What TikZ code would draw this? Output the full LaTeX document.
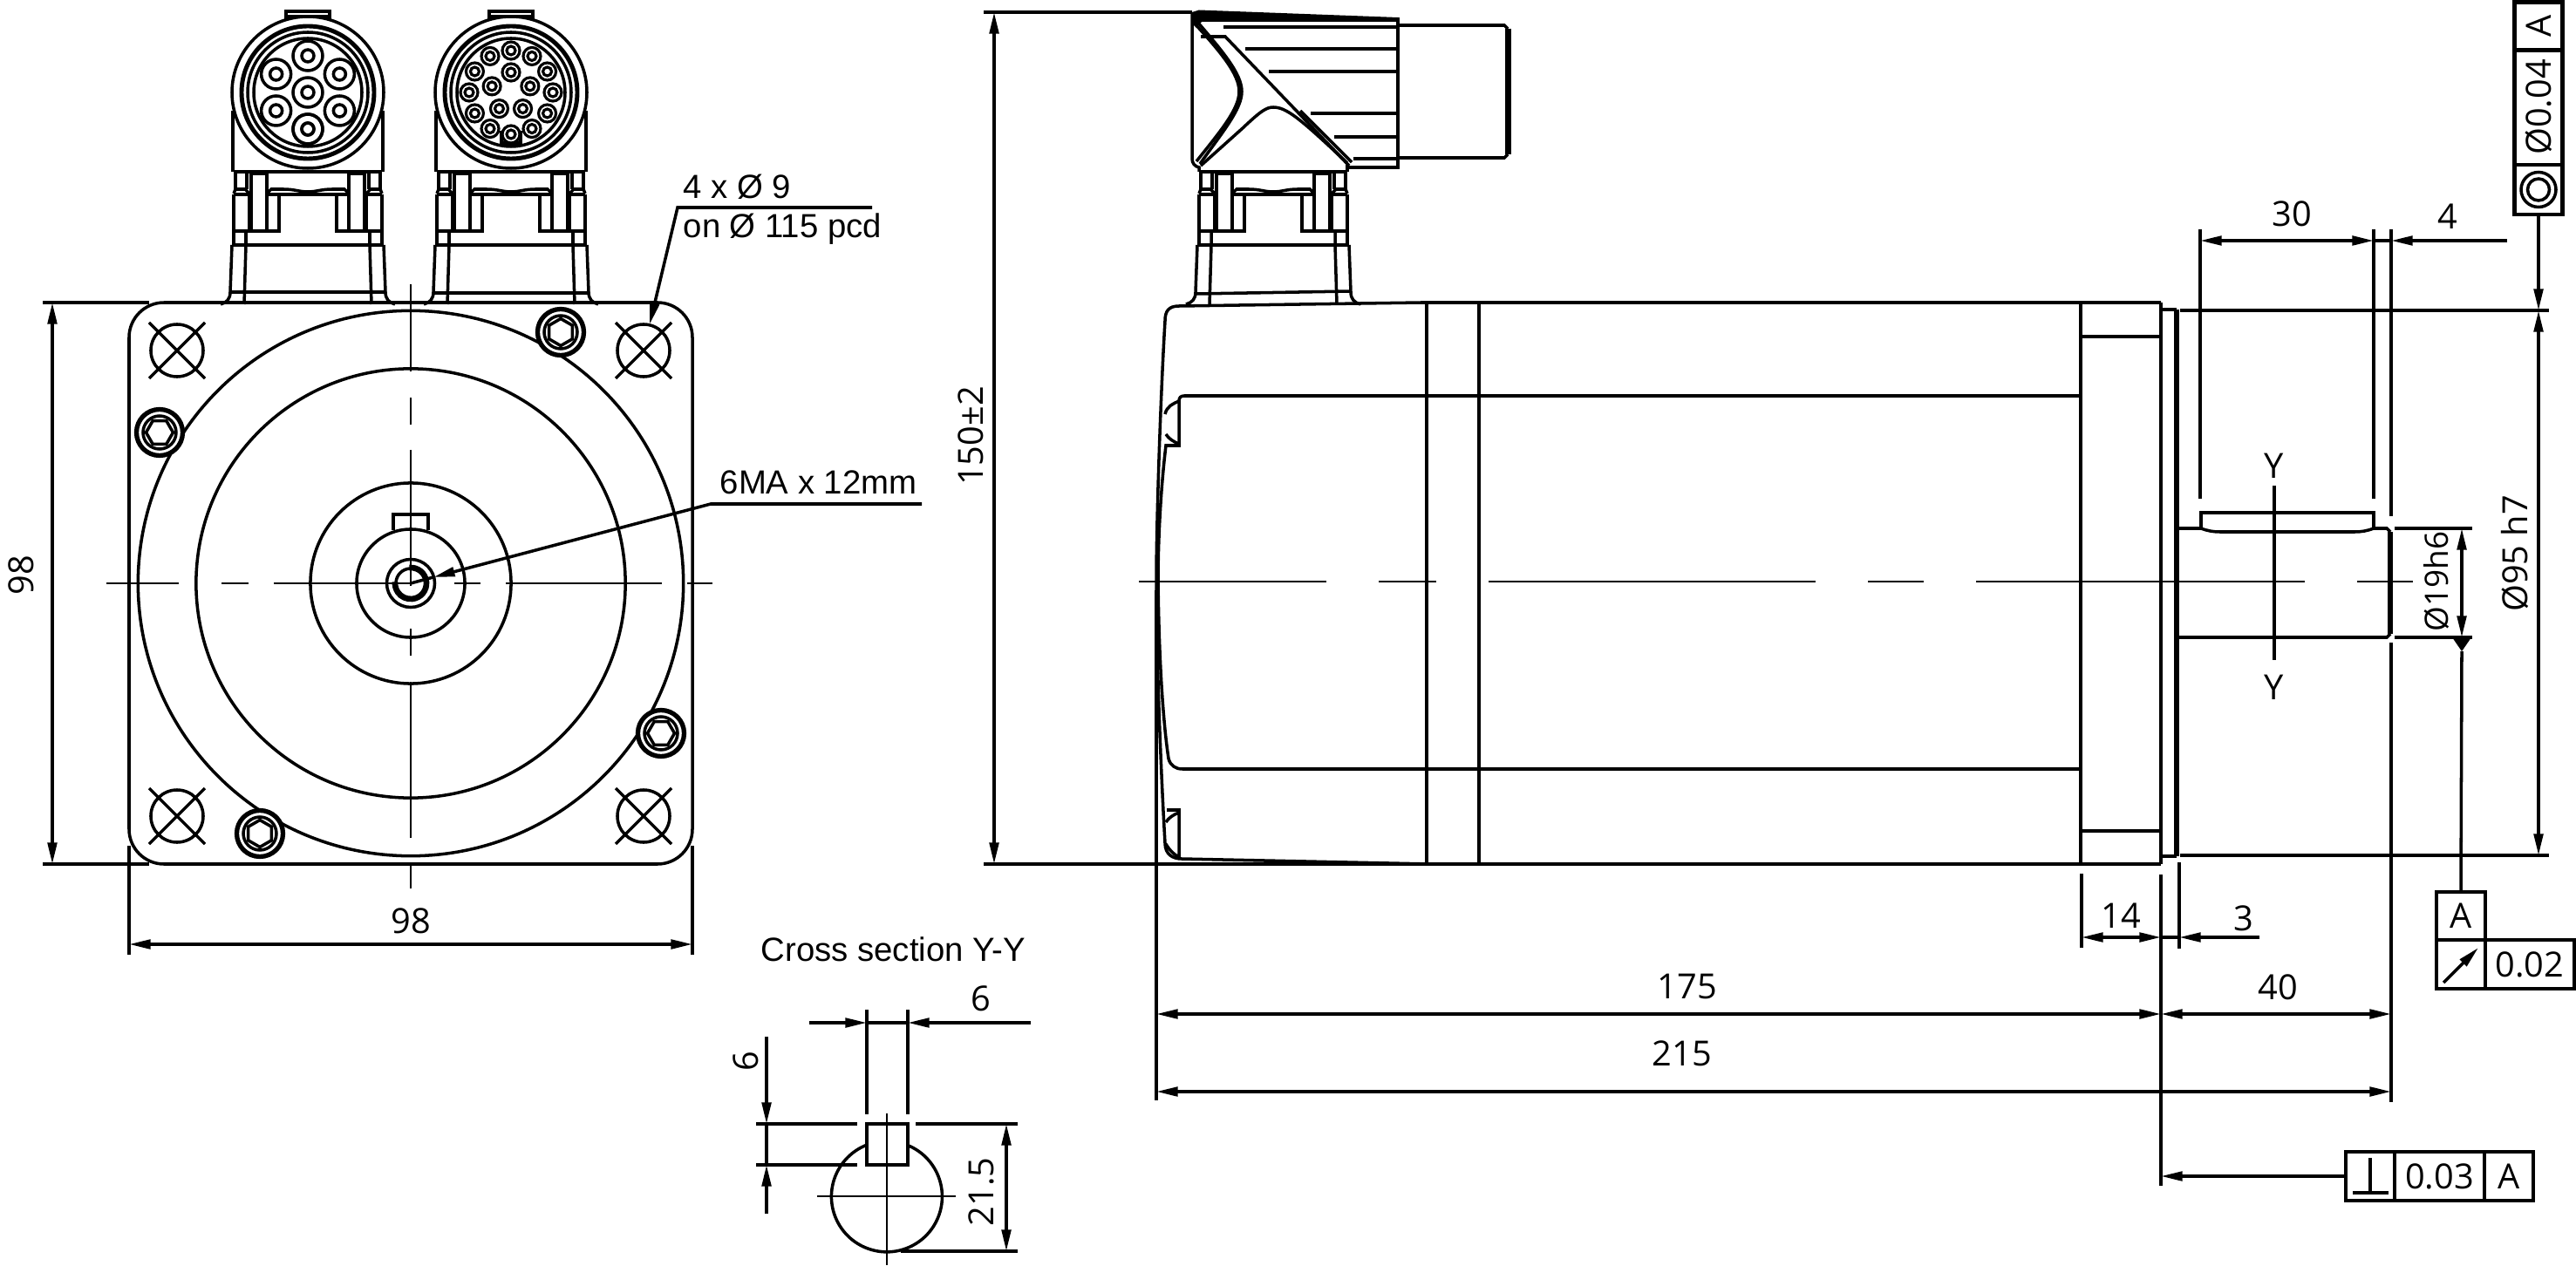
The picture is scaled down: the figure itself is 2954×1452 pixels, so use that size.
\documentclass[tikz,border=0pt]{standalone}
\usepackage{fontspec}
\usepackage{tikz}
\usetikzlibrary{arrows.meta,shapes.geometric}
\setmainfont{Liberation Sans}
\newfontfamily\dimfont{Open Sans}

\tikzset{
	part/.style={line width=1pt},
	heavy/.style={line width=1.9pt},
	centerline/.style={line width=0.8pt},
	dimline/.style={line width=1pt},
	lbl/.style={inner sep=0pt, font=\fontsize{10.9}{13}\selectfont},
	dimlbl/.style={inner sep=0pt, font=\dimfont\fontsize{11.3}{13}\selectfont},
	tolbox/.style={draw, rectangle, line width=1.2pt, inner sep=0pt, outer sep=0pt, font=\dimfont\fontsize{11.3}{13}\selectfont},
	holemark/.style={draw, circle, line width=1pt, minimum size=0.6cm, inner sep=0pt},
	boltring/.style={draw, circle, line width=1.5pt, fill=white, minimum size=0.53cm, inner sep=0pt},
	bolthex/.style={draw, regular polygon, regular polygon sides=6, line width=1pt, minimum size=0.31cm, inner sep=0pt},
}

\begin{document}
\begin{tikzpicture}[x=0.01cm, y=-0.01cm, >={Triangle[length=7pt,width=3pt]}]
	\useasboundingbox (0,0) rectangle (2954,1452);

	% connector bases, front view twice and side view once
	\foreach \cx/\ya/\yb/\za/\zb in {353/335/335/347/347, 586/336/336/347/347, 1460/337/334/351/347} {
		\begin{scope}[shift={(\cx,0)}, part]
			\draw (-85,197) -- (85,197);
			\draw (-87,281) -- (87,281);
			\draw (-89,\ya) -- (89,\yb);
			\foreach \s in {-1,1} {
				\begin{scope}[xscale=\s]
					\draw (-83,197) -- (-83,217) (-70,197) -- (-70,217);
					\draw (-85,222) -- (-83,217) -- (-72,217) -- (-67,222);
					\draw (-65,199) rectangle (-47,265);
					\draw (-85,223) -- (-67,223) (-47,223) -- (0,223);
					\draw (-85,223) -- (-85,281) (-67,223) -- (-67,265);
					\draw (-47,223) -- (-33,223) -- (-33,265) -- (-85,265);
					\draw (-47,222) -- (-42,217) -- (-28,217) .. controls (-15,217) and (-10,220) .. (0,220);
					\draw (-71,265) -- (-71,281) -- (-73,349);
					\draw (-87,281) -- (-89,335) .. controls (-89,343) and (-93,347) .. (-100,349);
				\end{scope}
			}
		\end{scope}
	}

	% connector heads in the front view
	\foreach \cx in {353,586} {
		\begin{scope}[shift={(\cx,106)}, part]
			\draw (-86,21) -- (-86,91) (86,21) -- (86,91);
			\draw (-25,-84) -- (-25,-93) -- (25,-93) -- (25,-84) (-24,-87) -- (24,-87);
			\draw[fill=white] (0,0) circle[radius=87];
			\draw[line width=1.4pt] (0,0) circle[radius=76];
			\draw (0,0) circle[radius=69];
			\draw (0,0) circle[radius=62];
		\end{scope}
	}
	\begin{scope}[shift={(353,106)}, part]
		\draw (0,0) circle[radius=17] (0,0) circle[radius=7];
		\foreach \a in {90,150,...,450} {
			\draw (\a:42) circle[radius=17] (\a:42) circle[radius=7];
		}
	\end{scope}
	\begin{scope}[shift={(586,106)}, line width=0.9pt]
		\draw (-11,44) -- (-11,58) -- (11,58) -- (11,44);
		\foreach \a in {0,30,...,330} {
			\draw[fill=white] (\a:48) circle[radius=10];
			\draw (\a:48) circle[radius=5];
		}
		\foreach \a in {-90,-18,54,126,198} {
			\draw[fill=white] (\a:23) circle[radius=10];
			\draw (\a:23) circle[radius=5];
		}
	\end{scope}

	% front view
	\draw[part, rounded corners=0.4cm] (148,347) rectangle (794,991);
	\node[draw, circle, part, minimum size=6.25cm, inner sep=0pt] (flange) at (471,669) {};
	\node[draw, circle, part, minimum size=4.92cm, inner sep=0pt] (pilot) at (471,669) {};
	\node[draw, circle, part, minimum size=2.3cm, inner sep=0pt] (boss) at (471,669) {};
	\node[draw, circle, part, minimum size=1.24cm, inner sep=0pt] (shaft) at (471,669) {};
	\node[draw, circle, part, minimum size=0.55cm, inner sep=0pt] (bore) at (471,669) {};
	\draw[part] (451,608) -- (451,590) -- (491,590) -- (491,608);
	\draw[part] (471,669) circle[radius=17];
	\draw[heavy] (471,669) ++(-95:18) arc[start angle=-95, end angle=185, radius=18];

	\foreach \hx/\hy/\hn in {203/402/a, 738/402/b, 203/936/c, 738/936/d} {
		\node[holemark] (hole\hn) at (\hx,\hy) {};
		\draw[part, shift={(\hx,\hy)}] (-32,-32) -- (32,32) (-32,32) -- (32,-32);
	}
	\foreach \bx/\by/\br/\bn in {643/381/30/a, 183/496/0/b, 758/841/0/c, 298/956/30/d} {
		\node[boltring] (bolt\bn) at (\bx,\by) {};
		\draw[part] (\bx,\by) circle[radius=19];
		\node[bolthex, shape border rotate=\br] (hex\bn) at (\bx,\by) {};
	}

	\draw[centerline] (122,669) -- (205,669) (254,669) -- (285,669) (314,669) -- (472,669) (521,669) -- (551,669) (580,669) -- (759,669) (788,669) -- (817,669);
	\draw[centerline] (471,326) -- (471,426) (471,456) -- (471,487) (471,516) -- (471,672) (471,721) -- (471,752) (471,782) -- (471,961) (471,991) -- (471,1019);

	% front view dimensions
	\draw[dimline] (49,347) -- (171,347) (49,991) -- (171,991);
	\draw[dimline, <->] (60,347) -- (60,991);
	\node[dimlbl, rotate=90] (hgt) at (24,660) {98};
	\draw[dimline] (148,970) -- (148,1095) (794,970) -- (794,1095);
	\draw[dimline, <->] (148,1083) -- (794,1083);
	\node[dimlbl] (wid) at (471,1056) {98};

	\node[lbl, anchor=base west] (holes) at (783,228) {4 x Ø 9};
	\node[lbl, anchor=base west] (pcd) at (783,273) {on Ø 115 pcd};
	\coordinate (holetip) at (745,372);
	\draw[dimline, ->] (1000,238) -- (777,238) -- (holetip);
	\node[lbl, anchor=base west] (thread) at (825,567) {6MA x 12mm};
	\coordinate (threadtip) at (497,662);
	\draw[dimline, ->] (1057,578) -- (815,578) -- (threadtip);
	\draw[dimline] (threadtip) -- (shaft.center);

	% cross section
	\node[lbl, anchor=base west] (sect) at (872,1102) {Cross section Y-Y};
	\draw[part] (994,1289) rectangle (1041,1336);
	\draw[part] (1040.3,1313.3) arc[start angle=-68.4, end angle=248.4, radius=63.5];
	\draw[centerline] (937,1372) -- (1096,1372) (1017,1277) -- (1017,1451);
	\draw[dimline] (994,1158) -- (994,1278) (1041,1158) -- (1041,1278);
	\draw[dimline, ->] (928,1173) -- (994,1173);
	\draw[dimline, ->] (1182,1173) -- (1041,1173);
	\draw[dimline] (994,1173) -- (1041,1173);
	\node[dimlbl] (keyw) at (1125,1145) {6};
	\draw[dimline] (867,1289) -- (983,1289) (1050,1289) -- (1167,1289) (867,1336) -- (983,1336) (1033,1435) -- (1167,1435);
	\draw[dimline, ->] (879,1189) -- (879,1289);
	\draw[dimline, ->] (879,1392) -- (879,1336);
	\draw[dimline] (879,1289) -- (879,1336);
	\node[dimlbl, rotate=90] (keyh) at (855,1217) {6};
	\draw[dimline, <->] (1154,1289) -- (1154,1435);
	\node[dimlbl, rotate=90] (keyd) at (1125,1367) {21.5};

	% side view, motor body
	\draw[part] (2478,347) -- (1630,347) -- (1352,351) .. controls (1340,351) and (1336,357) .. (1336,368) .. controls (1331,450) and (1326,600) .. (1326,666) .. controls (1326,760) and (1332,900) .. (1336,967) .. controls (1336,980) and (1345,985) .. (1355,985) -- (1640,991);
	\draw[part] (2386,454) -- (1358,454) .. controls (1354,454) and (1352,456) .. (1352,460) -- (1352,511) -- (1337,511) .. controls (1331,560) and (1328,620) .. (1328,666) .. controls (1329,760) and (1334,830) .. (1340,870) .. controls (1342,878) and (1348,882) .. (1356,882) -- (2386,882);
	\draw[part] (1336,475) .. controls (1338,466) and (1345,463) .. (1352,460) (1337,498) .. controls (1340,503) and (1346,507) .. (1352,509);
	\draw[part] (1338,929) -- (1352,929) -- (1352,985) (1337,943) .. controls (1340,938) and (1346,934) .. (1352,932) (1337,968) .. controls (1341,975) and (1346,980) .. (1352,983);
	\draw[part] (1636,347) -- (1636,991) (1696,347) -- (1696,991) (2386,347) -- (2386,991);
	\draw[part] (2386,386) -- (2478,386) (2386,953) -- (2478,953);
	\draw[part] (2478,347) -- (2478,991) (2478,355) -- (2496,355) (2478,982) -- (2496,982);
	\draw[heavy] (2496,355) -- (2496,982);

	% side view, shaft and key
	\draw[part] (2496,606) -- (2524,606) (2722,606) -- (2737,606) -- (2741,610) (2496,731) -- (2737,731) -- (2741,727);
	\draw[line width=1.5pt] (2741,610) -- (2741,727);
	\draw[part] (2524,606) -- (2524,588) -- (2722,588) -- (2722,606);
	\draw[part] (2524,606) .. controls (2532,609) and (2538,610) .. (2546,610) -- (2700,610) .. controls (2708,610) and (2714,609) .. (2722,606);
	\draw[centerline] (1306,667) -- (1521,667) (1581,667) -- (1647,667) (1707,667) -- (2082,667) (2142,667) -- (2206,667) (2266,667) -- (2643,667) (2703,667) -- (2767,667);
	\draw[part] (2608,557) -- (2608,757);
	\node[dimlbl] (cuta) at (2608,534) {Y};
	\node[dimlbl] (cutb) at (2608,788) {Y};

	% side view, connector head
	\fill (1367,14) -- (1375,11.5) -- (1603,20) -- (1603,25) -- (1378,25) -- (1372,32) -- (1367,27) -- cycle;
	\draw[part] (1367,14) -- (1367,182) .. controls (1367,187) and (1370,191) .. (1375,192) -- (1375,197);
	\draw[part] (1545,192) -- (1603,192) -- (1603,20);
	\draw[part] (1545,189) -- (1545,197);
	\draw[part] (1603,29) -- (1725,29) -- (1729,33) (1603,181) -- (1725,181) -- (1729,177);
	\draw[line width=2pt] (1729,33) -- (1729,177);
	\foreach \ly/\lx in {31/1403, 56/1428, 82/1455, 130/1503, 157/1530, 182/1552} {
		\draw[part] (\lx,\ly) -- (1603,\ly);
	}
	\draw[part] (1377,42) -- (1405,42) -- (1547,190);
	\draw[part] (1491,127) -- (1550,186);
	\draw[part] (1370,27) .. controls (1400,60) and (1421,85) .. (1421,105) .. controls (1421,125) and (1400,150) .. (1372,185);
	\draw[part] (1373,25) .. controls (1403,60) and (1424,85) .. (1424,105) .. controls (1424,125) and (1403,150) .. (1376,188);
	\draw[part] (1377,190) -- (1425,147) .. controls (1445,128) and (1452,123) .. (1460,123) .. controls (1475,123) and (1490,135) .. (1545,187);

	% side view dimensions
	\draw[dimline] (1128,14) -- (1367,14) (1128,991) -- (2478,991);
	\draw[dimline, <->] (1140,14) -- (1140,991);
	\node[dimlbl, rotate=90] (total) at (1113,500) {150±2};

	\draw[dimline] (2523,263) -- (2523,572) (2722,263) -- (2722,572) (2742,263) -- (2742,592) (2742,737) -- (2742,1264);
	\draw[dimline, <->] (2523,276) -- (2722,276);
	\node[dimlbl] (keylen) at (2628,245) {30};
	\draw[dimline] (2722,276) -- (2742,276);
	\draw[dimline, ->] (2875,276) -- (2742,276);
	\node[dimlbl] (keyoff) at (2807,248) {4};

	\draw[dimline] (2500,356) -- (2923,356) (2500,981) -- (2923,981);
	\draw[dimline, <->] (2911,356) -- (2911,981);
	\node[dimlbl, rotate=90] (pilotd) at (2884,635) {Ø95 h7};
	\draw[dimline] (2746,606) -- (2835,606) (2746,731) -- (2835,731);
	\draw[dimline, <->] (2823,606) -- (2823,731);
	\node[dimlbl, rotate=90, font=\dimfont\fontsize{10.5}{13}\selectfont] (shaftd) at (2794,667) {Ø19h6};

	\draw[dimline] (1326,677) -- (1326,1262);
	\draw[dimline] (2387,1002) -- (2387,1087) (2478,1003) -- (2478,1360) (2499,989) -- (2499,1088);
	\draw[dimline, <->] (2387,1075) -- (2478,1075);
	\node[dimlbl] (flangew) at (2432,1050) {14};
	\draw[dimline] (2478,1075) -- (2499,1075);
	\draw[dimline, ->] (2591,1075) -- (2499,1075);
	\node[dimlbl] (spigot) at (2573,1053) {3};
	\draw[dimline, <->] (1326,1163) -- (2478,1163);
	\node[dimlbl] (bodyl) at (1935,1132) {175};
	\draw[dimline, <->] (2478,1163) -- (2742,1163);
	\node[dimlbl] (shaftl) at (2612,1132) {40};
	\draw[dimline, <->] (1326,1252) -- (2742,1252);
	\node[dimlbl] (alll) at (1929,1208) {215};

	% tolerance frames
	\node[tolbox, rotate=90, minimum width=0.55cm, minimum height=0.55cm] (cona) at (2911,30) {A};
	\node[tolbox, rotate=90, minimum width=1.32cm, minimum height=0.55cm] (conb) at (2911,123) {Ø0.04};
	\node[tolbox, minimum width=0.55cm, minimum height=0.57cm] (conc) at (2911,217.5) {};
	\draw[part] (conc.center) circle[radius=20] (conc.center) circle[radius=12.5];
	\draw[dimline, ->] (conc.south) -- (2911,356);

	\node[tolbox, minimum width=0.56cm, minimum height=0.55cm] (datum) at (2822,1050.5) {A};
	\node[tolbox, minimum width=0.56cm, minimum height=0.56cm] (runa) at (2822,1106) {};
	\node[tolbox, minimum width=1.02cm, minimum height=0.56cm] (runb) at (2901,1106) {0.02};
	\coordinate (runs) at (2802,1127);
	\coordinate (rune) at (2842,1087);
	\draw[dimline, ->] (runs) -- (rune);
	\coordinate (datumtip) at (2823,747);
	\fill (2812,731) -- (2834,731) -- (datumtip) -- cycle;
	\draw[dimline] (datumtip) -- (datum.north);

	\node[tolbox, minimum width=0.56cm, minimum height=0.56cm] (perpa) at (2718,1349) {};
	\node[tolbox, minimum width=1.03cm, minimum height=0.56cm] (perpb) at (2797.5,1349) {0.03};
	\node[tolbox, minimum width=0.56cm, minimum height=0.56cm] (perpc) at (2877,1349) {A};
	\draw[part] (2718,1328) -- (2718,1368) (2698,1368) -- (2739,1368);
	\draw[dimline, ->] (perpa.west) -- (2478,1349);

\end{tikzpicture}
\end{document}
